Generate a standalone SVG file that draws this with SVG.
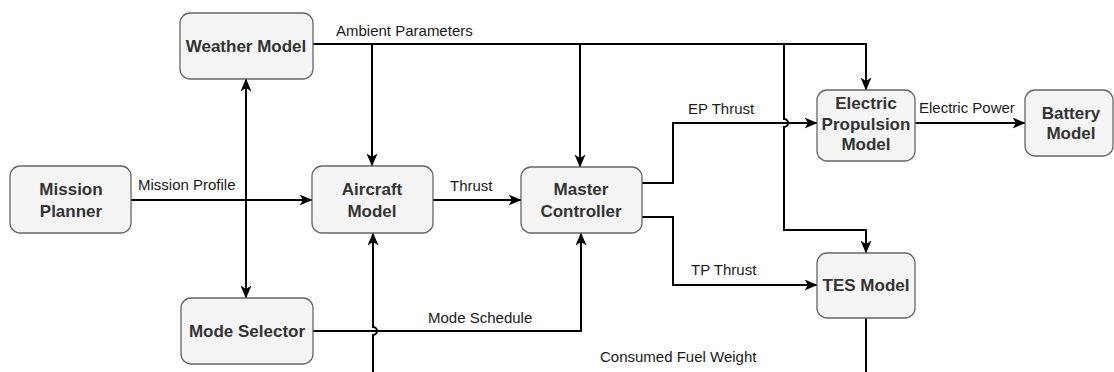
<svg xmlns="http://www.w3.org/2000/svg" width="1114" height="372" viewBox="0 0 1114 372">
<style>
.node rect{fill:#f5f5f5;stroke:#666666;stroke-width:1.3}
.node text{font-family:"Liberation Sans",Arial,sans-serif;font-size:17px;font-weight:bold;fill:#333333;text-anchor:middle}
.edge{fill:none;stroke:#000000;stroke-width:2}
.lbl{font-family:"Liberation Sans",Arial,sans-serif;font-size:15px;fill:#1a1a1a}
</style>
<defs>
<marker id="arr" markerUnits="userSpaceOnUse" markerWidth="14" markerHeight="12" refX="12.5" refY="5.5" orient="auto-start-reverse">
<path d="M0,0 L13,5.5 L0,11 L3.5,5.5 z" fill="#000000"/>
</marker>
</defs>
<rect width="1114" height="372" fill="#ffffff"/>
<g id="connectors">
<path class="edge" d="M313,44 H866 V90" marker-end="url(#arr)"/>
<path class="edge" d="M372,44 V166" marker-end="url(#arr)"/>
<path class="edge" d="M580,44 V167" marker-end="url(#arr)"/>
<path class="edge" d="M784,44 V119 A4,4 0 0 1 784,127 V230 H866 V253" marker-end="url(#arr)"/>
<path class="edge" d="M246,79 V298" marker-start="url(#arr)" marker-end="url(#arr)"/>
<path class="edge" d="M131,200 H312" marker-end="url(#arr)"/>
<path class="edge" d="M433,200 H521" marker-end="url(#arr)"/>
<path class="edge" d="M642,183 H673 V123 H817" marker-end="url(#arr)"/>
<path class="edge" d="M642,217 H673 V285 H817" marker-end="url(#arr)"/>
<path class="edge" d="M915,123 H1025" marker-end="url(#arr)"/>
<path class="edge" d="M313,331 H581 V233" marker-end="url(#arr)"/>
<path class="edge" d="M373,372 V335 A4,4 0 0 0 373,327 V233" marker-end="url(#arr)"/>
<path class="edge" d="M866,318 V372"/>
<text class="lbl" x="336" y="36">Ambient Parameters</text>
<text class="lbl" x="138" y="190">Mission Profile</text>
<text class="lbl" x="450" y="191">Thrust</text>
<text class="lbl" x="688" y="114">EP Thrust</text>
<text class="lbl" x="919" y="113">Electric Power</text>
<text class="lbl" x="691" y="275">TP Thrust</text>
<text class="lbl" x="428" y="323">Mode Schedule</text>
<text class="lbl" x="600" y="362">Consumed Fuel Weight</text>
</g>
<g id="weather-model" class="node">
<rect x="180" y="13" width="133" height="66" rx="10"/>
<text x="246" y="52">Weather Model</text>
</g>
<g id="mission-planner" class="node">
<rect x="10" y="166" width="121" height="67" rx="10"/>
<text x="71" y="195">Mission</text>
<text x="71" y="217">Planner</text>
</g>
<g id="aircraft-model" class="node">
<rect x="312" y="166" width="121" height="67" rx="10"/>
<text x="372" y="195">Aircraft</text>
<text x="372" y="217">Model</text>
</g>
<g id="master-controller" class="node">
<rect x="521" y="167" width="121" height="66" rx="10"/>
<text x="581" y="195">Master</text>
<text x="581" y="217">Controller</text>
</g>
<g id="electric-propulsion-model" class="node">
<rect x="817" y="90" width="98" height="71" rx="10"/>
<text x="866" y="109">Electric</text>
<text x="866" y="129.5">Propulsion</text>
<text x="866" y="150">Model</text>
</g>
<g id="battery-model" class="node">
<rect x="1025" y="90" width="88" height="66" rx="10"/>
<text x="1071" y="119">Battery</text>
<text x="1071" y="139">Model</text>
</g>
<g id="tes-model" class="node">
<rect x="817" y="253" width="98" height="65" rx="10"/>
<text x="866" y="291">TES Model</text>
</g>
<g id="mode-selector" class="node">
<rect x="181" y="298" width="132" height="66" rx="10"/>
<text x="247" y="337">Mode Selector</text>
</g>
</svg>
